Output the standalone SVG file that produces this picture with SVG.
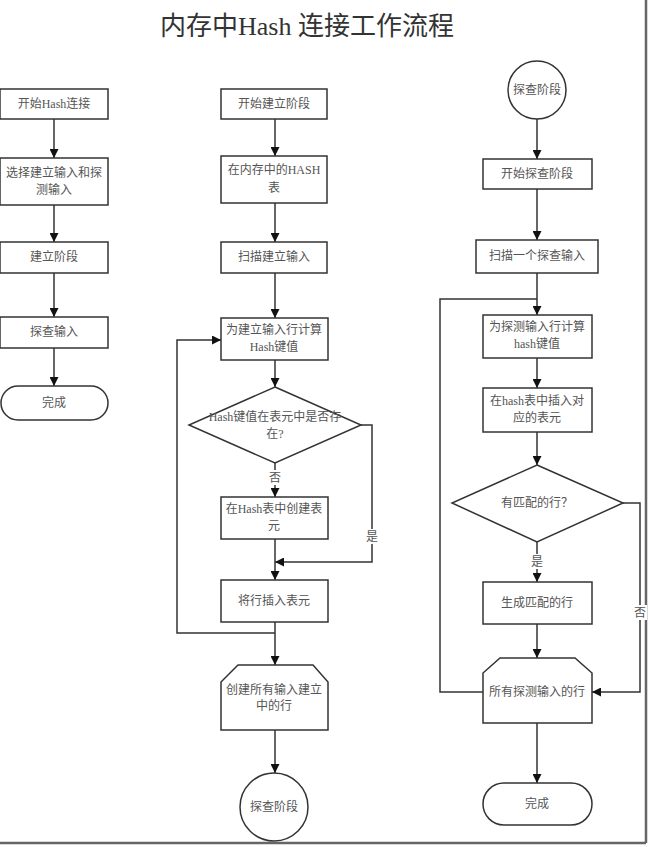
<svg xmlns="http://www.w3.org/2000/svg" width="650" height="847" viewBox="0 0 650 847">
<defs>
<marker id="ah" markerWidth="9" markerHeight="9" refX="9" refY="4.5" orient="auto" markerUnits="userSpaceOnUse">
<path d="M0,0 L9,4.5 L0,9 Z" fill="#111"/>
</marker>
<style>
.s{fill:#fff;stroke:#333;stroke-width:1.5}
.c{fill:none;stroke:#333;stroke-width:1.5}
.t{font-family:"Liberation Serif","Noto Sans CJK SC",serif;font-size:12px;fill:#555;text-anchor:middle}
.title{font-family:"Liberation Serif","Noto Sans CJK SC",serif;font-size:26px;fill:#333;text-anchor:middle}
.lb{fill:#fff}
</style>
</defs>
<rect width="650" height="847" fill="#fff"/>
<line x1="646" y1="0" x2="646" y2="843" stroke="#666" stroke-width="2.5"/>
<line x1="0" y1="843" x2="646" y2="843" stroke="#666" stroke-width="2.5"/>
<text class="title" x="307" y="35">内存中Hash 连接工作流程</text>

<g id="connectors">
<line class="c" x1="54" y1="119" x2="54" y2="158" marker-end="url(#ah)"/>
<line class="c" x1="54" y1="205" x2="54" y2="242" marker-end="url(#ah)"/>
<line class="c" x1="54" y1="273" x2="54" y2="317" marker-end="url(#ah)"/>
<line class="c" x1="54" y1="348" x2="54" y2="386" marker-end="url(#ah)"/>

<line class="c" x1="275" y1="119" x2="275" y2="156" marker-end="url(#ah)"/>
<line class="c" x1="275" y1="203" x2="275" y2="242" marker-end="url(#ah)"/>
<line class="c" x1="275" y1="273" x2="275" y2="318" marker-end="url(#ah)"/>
<line class="c" x1="275" y1="360" x2="275" y2="387" marker-end="url(#ah)"/>
<line class="c" x1="275" y1="463" x2="275" y2="497" marker-end="url(#ah)"/>
<polyline class="c" points="361,425 372,425 372,562 275,562" marker-end="url(#ah)"/>
<line class="c" x1="275" y1="539" x2="275" y2="580" marker-end="url(#ah)"/>
<line class="c" x1="275" y1="622" x2="275" y2="665" marker-end="url(#ah)"/>
<polyline class="c" points="275,633 177,633 177,340 221,340" marker-end="url(#ah)"/>
<line class="c" x1="275" y1="730" x2="275" y2="773" marker-end="url(#ah)"/>

<line class="c" x1="537" y1="119" x2="537" y2="159" marker-end="url(#ah)"/>
<line class="c" x1="537" y1="189" x2="537" y2="240" marker-end="url(#ah)"/>
<line class="c" x1="537" y1="273" x2="537" y2="315" marker-end="url(#ah)"/>
<polyline class="c" points="483,692 440,692 440,299 537,299"/>
<line class="c" x1="537" y1="358" x2="537" y2="388" marker-end="url(#ah)"/>
<line class="c" x1="537" y1="432" x2="537" y2="465" marker-end="url(#ah)"/>
<line class="c" x1="537" y1="542" x2="537" y2="582" marker-end="url(#ah)"/>
<polyline class="c" points="623,503 640,503 640,692 592,692" marker-end="url(#ah)"/>
<line class="c" x1="537" y1="624" x2="537" y2="658" marker-end="url(#ah)"/>
<line class="c" x1="537" y1="723" x2="537" y2="783" marker-end="url(#ah)"/>

<rect class="lb" x="268" y="470" width="14" height="15"/>
<text class="t" x="275" y="482">否</text>
<rect class="lb" x="365" y="529" width="14" height="15"/>
<text class="t" x="372" y="541">是</text>
<rect class="lb" x="530" y="554" width="14" height="15"/>
<text class="t" x="537" y="566">是</text>
<rect class="lb" x="633" y="605" width="14" height="15"/>
<text class="t" x="640" y="617">否</text>
</g>

<g id="l1"><rect class="s" x="0" y="89" width="108" height="30"/><text class="t" x="54" y="108">开始Hash连接</text></g>
<g id="l2"><rect class="s" x="0" y="158" width="108" height="47"/><text class="t" x="54" y="177">选择建立输入和探</text><text class="t" x="54" y="194">测输入</text></g>
<g id="l3"><rect class="s" x="0" y="242" width="108" height="31"/><text class="t" x="54" y="261">建立阶段</text></g>
<g id="l4"><rect class="s" x="0" y="317" width="108" height="31"/><text class="t" x="54" y="336">探查输入</text></g>
<g id="l5"><rect class="s" x="1" y="386" width="107" height="34" rx="17"/><text class="t" x="54" y="407">完成</text></g>

<g id="m1"><rect class="s" x="221" y="89" width="106" height="30"/><text class="t" x="274" y="108">开始建立阶段</text></g>
<g id="m2"><rect class="s" x="221" y="156" width="106" height="47"/><text class="t" x="274" y="174">在内存中的HASH</text><text class="t" x="274" y="192">表</text></g>
<g id="m3"><rect class="s" x="221" y="242" width="106" height="31"/><text class="t" x="274" y="261">扫描建立输入</text></g>
<g id="m4"><rect class="s" x="221" y="318" width="107" height="42"/><text class="t" x="274" y="334">为建立输入行计算</text><text class="t" x="274" y="351">Hash键值</text></g>
<g id="m5"><polygon class="s" points="275,387 361,425 275,463 189,425"/><text class="t" x="275" y="421">Hash键值在表元中是否存</text><text class="t" x="275" y="438">在?</text></g>
<g id="m6"><rect class="s" x="221" y="497" width="107" height="42"/><text class="t" x="274" y="513">在Hash表中创建表</text><text class="t" x="274" y="530">元</text></g>
<g id="m7"><rect class="s" x="221" y="580" width="107" height="42"/><text class="t" x="274" y="605">将行插入表元</text></g>
<g id="m8"><polygon class="s" points="238,665 313,665 328,682 328,730 221,730 221,682"/><text class="t" x="274" y="694">创建所有输入建立</text><text class="t" x="274" y="710">中的行</text></g>
<g id="m9"><circle class="s" cx="274" cy="807" r="34"/><text class="t" x="274" y="811">探查阶段</text></g>

<g id="r1"><circle class="s" cx="537" cy="90" r="29"/><text class="t" x="537" y="94">探查阶段</text></g>
<g id="r2"><rect class="s" x="483" y="159" width="109" height="30"/><text class="t" x="537" y="178">开始探查阶段</text></g>
<g id="r3"><rect class="s" x="476" y="240" width="122" height="33"/><text class="t" x="537" y="260">扫描一个探查输入</text></g>
<g id="r4"><rect class="s" x="483" y="315" width="109" height="43"/><text class="t" x="537" y="331">为探测输入行计算</text><text class="t" x="537" y="348">hash键值</text></g>
<g id="r5"><rect class="s" x="483" y="388" width="109" height="44"/><text class="t" x="537" y="405">在hash表中插入对</text><text class="t" x="537" y="422">应的表元</text></g>
<g id="r6"><polygon class="s" points="537,465 623,503 537,542 452,503"/><text class="t" x="537" y="507">有匹配的行？</text></g>
<g id="r7"><rect class="s" x="483" y="582" width="109" height="42"/><text class="t" x="537" y="607">生成匹配的行</text></g>
<g id="r8"><polygon class="s" points="500,658 575,658 592,673 592,723 483,723 483,673"/><text class="t" x="537" y="696">所有探测输入的行</text></g>
<g id="r9"><rect class="s" x="483" y="783" width="109" height="42" rx="21"/><text class="t" x="537" y="808">完成</text></g>
</svg>
